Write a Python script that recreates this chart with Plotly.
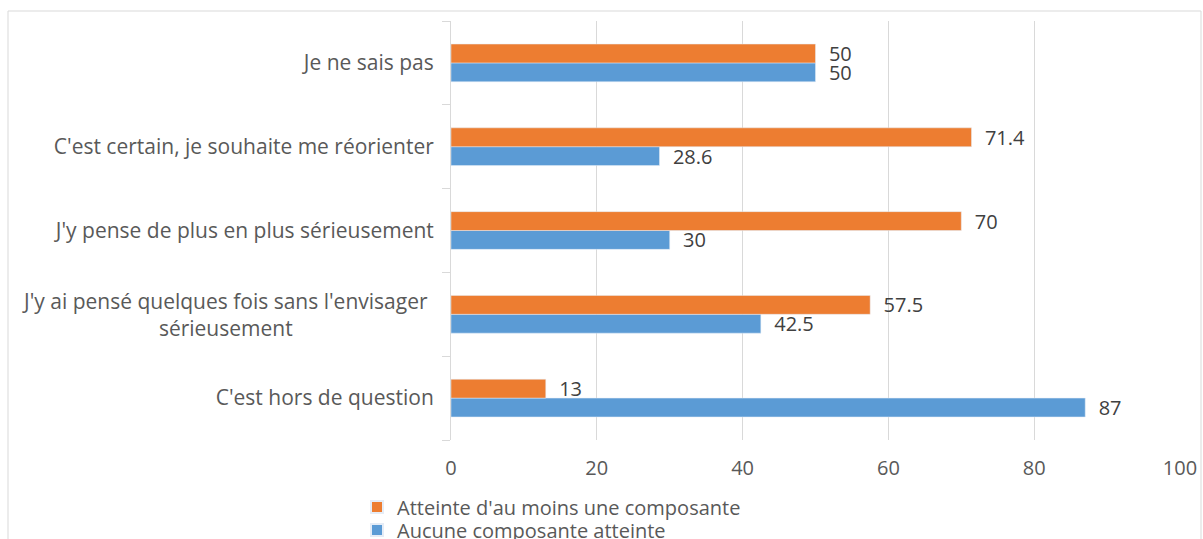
import plotly.graph_objects as go

categories = [
    "C'est hors de question",
    "J'y ai pensé quelques fois sans l'envisager sérieusement",
    "J'y pense de plus en plus sérieusement",
    "C'est certain, je souhaite me réorienter",
    "Je ne sais pas",
]
tick_labels = [
    "C'est hors de question",
    "",
    "J'y pense de plus en plus sérieusement",
    "C'est certain, je souhaite me réorienter",
    "Je ne sais pas",
]
wrapped_label = "J'y ai pensé quelques fois sans l'envisager<br>sérieusement"

series_orange_name = "Atteinte d'au moins une composante"
series_blue_name = "Aucune composante atteinte"
orange_values = [13, 57.5, 70, 71.4, 50]
blue_values = [87, 42.5, 30, 28.6, 50]

FONT = "Open Sans"
FS = 21
FSL = 20
TXT = "#404040"
AX = "#595959"
GRID = "#d9d9d9"

fig = go.Figure()
fig.add_trace(go.Bar(
    y=categories, x=blue_values, orientation="h", name=series_blue_name,
    marker_color="#5b9bd5", text=blue_values,
    texttemplate="\u00a0\u00a0%{x}", textposition="outside",
    constraintext="none",
    textfont=dict(size=FSL, color=TXT, family=FONT), cliponaxis=False,
    hoverinfo="x+name", legend="legend2",
))
fig.add_trace(go.Bar(
    y=categories, x=orange_values, orientation="h", name=series_orange_name,
    marker_color="#ed7d31", text=orange_values,
    texttemplate="\u00a0\u00a0%{x}", textposition="outside",
    constraintext="none",
    textfont=dict(size=FSL, color=TXT, family=FONT), cliponaxis=False,
    hoverinfo="x+name", legend="legend",
))

W, H = 1203, 539
L, R, T, B = 451, 23, 21, 99
pw, ph = W - L - R, H - T - B

legend_common = dict(
    xanchor="left", yanchor="middle", orientation="v",
    font=dict(size=FSL, color=AX, family=FONT),
    itemsizing="constant", bgcolor="rgba(0,0,0,0)",
    borderwidth=0,
)

fig.update_layout(
    width=W, height=H,
    margin=dict(l=L, r=R, t=T, b=B, autoexpand=False),
    barmode="group", bargap=0.55, bargroupgap=0,
    plot_bgcolor="white", paper_bgcolor="white",
    font=dict(family=FONT, size=FS, color=AX),
    showlegend=True,
    legend=dict(x=(357 - L) / pw, y=(440 - 507) / ph, **legend_common),
    legend2=dict(x=(357 - L) / pw, y=(440 - 530) / ph, **legend_common),
    xaxis=dict(
        range=[0, 100], dtick=20, showgrid=True, gridcolor=GRID, gridwidth=1,
        zeroline=False, showline=False, ticks="",
        tickfont=dict(size=FSL, color=AX, family=FONT),
        ticklabelstandoff=14, fixedrange=True,
    ),
    yaxis=dict(
        type="category", categoryorder="array", categoryarray=categories,
        tickmode="array", tickvals=categories, ticktext=tick_labels,
        showline=True, linecolor=GRID, linewidth=1,
        ticks="outside", ticklen=8, tickcolor=GRID, tickson="boundaries",
        showgrid=False,
        tickfont=dict(size=FS, color=AX, family=FONT),
        ticklabelstandoff=12, fixedrange=True,
    ),
    shapes=[dict(
        type="rect", xref="paper", yref="paper",
        x0=(8 - L) / pw, x1=(1201 - L) / pw,
        y0=(440 - 560) / ph, y1=1 + (T - 11) / ph,
        line=dict(color="#d9d9d9", width=1), fillcolor="rgba(0,0,0,0)",
        layer="below",
    )],
    annotations=[dict(
        text=wrapped_label, xref="paper", yref="y",
        x=(430 - L) / pw, y=categories[1], xanchor="right", yanchor="middle",
        align="center", showarrow=False,
        font=dict(size=FS, color=AX, family=FONT),
    )],
)

fig.write_html(
    "out.html",
    config={"displayModeBar": False},
    post_script="document.body.style.margin='0';document.body.style.overflow='hidden';",
)
